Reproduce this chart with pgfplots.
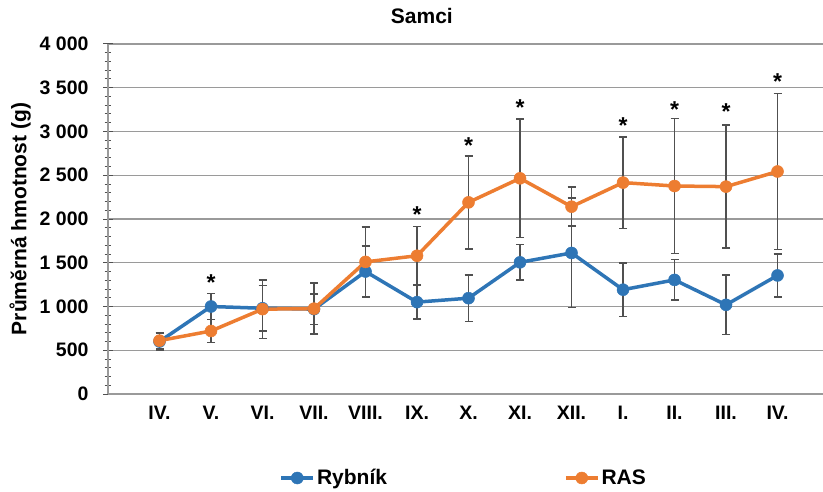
\documentclass[border=0pt]{standalone}
\usepackage{fontspec}
\setmainfont{Liberation Sans}
\usepackage{pgfplots}
\usepackage{pgfplotstable}
\pgfplotsset{compat=1.18}
\definecolor{cBlue}{HTML}{2E75B6}
\definecolor{cOrange}{HTML}{ED7D31}
\definecolor{cGrid}{HTML}{9A9A9A}
\definecolor{cErr}{HTML}{505050}

\pgfplotstableread{
x r re s se
0 600 100 610 90
1 1000 150 720 130
2 980 260 970 335
3 970 175 975 290
4 1400 295 1510 395
5 1050 190 1580 335
6 1095 265 2190 530
7 1505 205 2465 675
8 1612 625 2141 221
9 1192 305 2416 524
10 1304 233 2377 770
11 1019 340 2370 705
12 1355 248 2543 890
}\data

\pgfplotstableread{
x y
1 1326
5 2114
6 2895
7 3330
9 3131
10 3314
11 3291
12 3626
}\stars

\begin{document}
\begin{tikzpicture}
\path[use as bounding box] (0,0) rectangle (823pt,491pt);
\begin{axis}[
  scale only axis, width=715pt, height=350pt,
  at={(108pt,97pt)}, anchor=south west,
  xmin=-1, xmax=12.883, ymin=0, ymax=4000,
  axis x line=bottom, axis y line=left,
  axis line style={-, draw=cGrid, line width=1.4pt},
  xtick={0,...,12},
  xticklabels={IV.,V.,VI.,VII.,VIII.,IX.,X.,XI.,XII.,I.,II.,III.,IV.},
  major x tick style={draw=none},
  xticklabel style={yshift=-4pt},
  ytick={0,500,...,4000},
  yticklabels={0,500,1\ 000,1\ 500,2\ 000,2\ 500,3\ 000,3\ 500,4\ 000},
  yticklabel style={xshift=-11pt},
  minor y tick num=4,
  tick align=center,
  major tick length=10pt, minor tick length=7pt,
  tick style={draw=cErr, line width=1pt},
  ymajorgrids, major grid style={draw=cGrid, line width=1.4pt},
  ticklabel style={font=\bfseries\fontsize{19.5}{22}\selectfont, text=black},
  ylabel={Průměrná hmotnost (g)},
  ylabel style={font=\bfseries\fontsize{21}{24}\selectfont, at={(axis description cs:-0.123,0.5)}, anchor=center},
  title={Samci},
  title style={font=\bfseries\fontsize{21}{24}\selectfont, at={(axis description cs:0.439,1.063)}, anchor=center},
  legend columns=2,
  legend style={at={(axis description cs:0.4975,-0.24)}, anchor=center, draw=none, fill=none,
    font=\bfseries\fontsize{21}{24}\selectfont,
    /tikz/every even column/.append style={column sep=175pt}},
  legend image code/.code={\draw[mark repeat=2,mark phase=2] plot coordinates {(0pt,0pt) (16pt,0pt) (32pt,0pt)};},
]
\addplot[cErr, only marks, mark=none, forget plot, error bars/.cd, y dir=both, y explicit,
  error bar style={draw=cErr, line width=1.7pt, solid},
  error mark=|, error mark options={draw=cErr, line width=1.7pt, mark size=4pt}]
  table[x=x, y=r, y error=re]{\data};
\addplot[cErr, only marks, mark=none, forget plot, error bars/.cd, y dir=both, y explicit,
  error bar style={draw=cErr, line width=1.7pt, solid},
  error mark=|, error mark options={draw=cErr, line width=1.7pt, mark size=4pt}]
  table[x=x, y=s, y error=se]{\data};
\addplot[cBlue, line width=3.5pt, mark=*, mark size=6pt, mark options={solid, fill=cBlue, draw=cBlue, line width=0.5pt}]
  table[x=x, y=r]{\data};
\addlegendentry{Rybník}
\addplot[cOrange, line width=3.5pt, mark=*, mark size=6pt, mark options={solid, fill=cOrange, draw=cOrange, line width=0.5pt}]
  table[x=x, y=s]{\data};
\addlegendentry{RAS}
\addplot[draw=none, mark=none, forget plot, nodes near coords={*},
  nodes near coords style={anchor=base, yshift=-13pt, inner sep=0pt, text=black, font=\bfseries\fontsize{23}{23}\selectfont}]
  table[x=x, y=y]{\stars};
\end{axis}
\end{tikzpicture}
\end{document}
